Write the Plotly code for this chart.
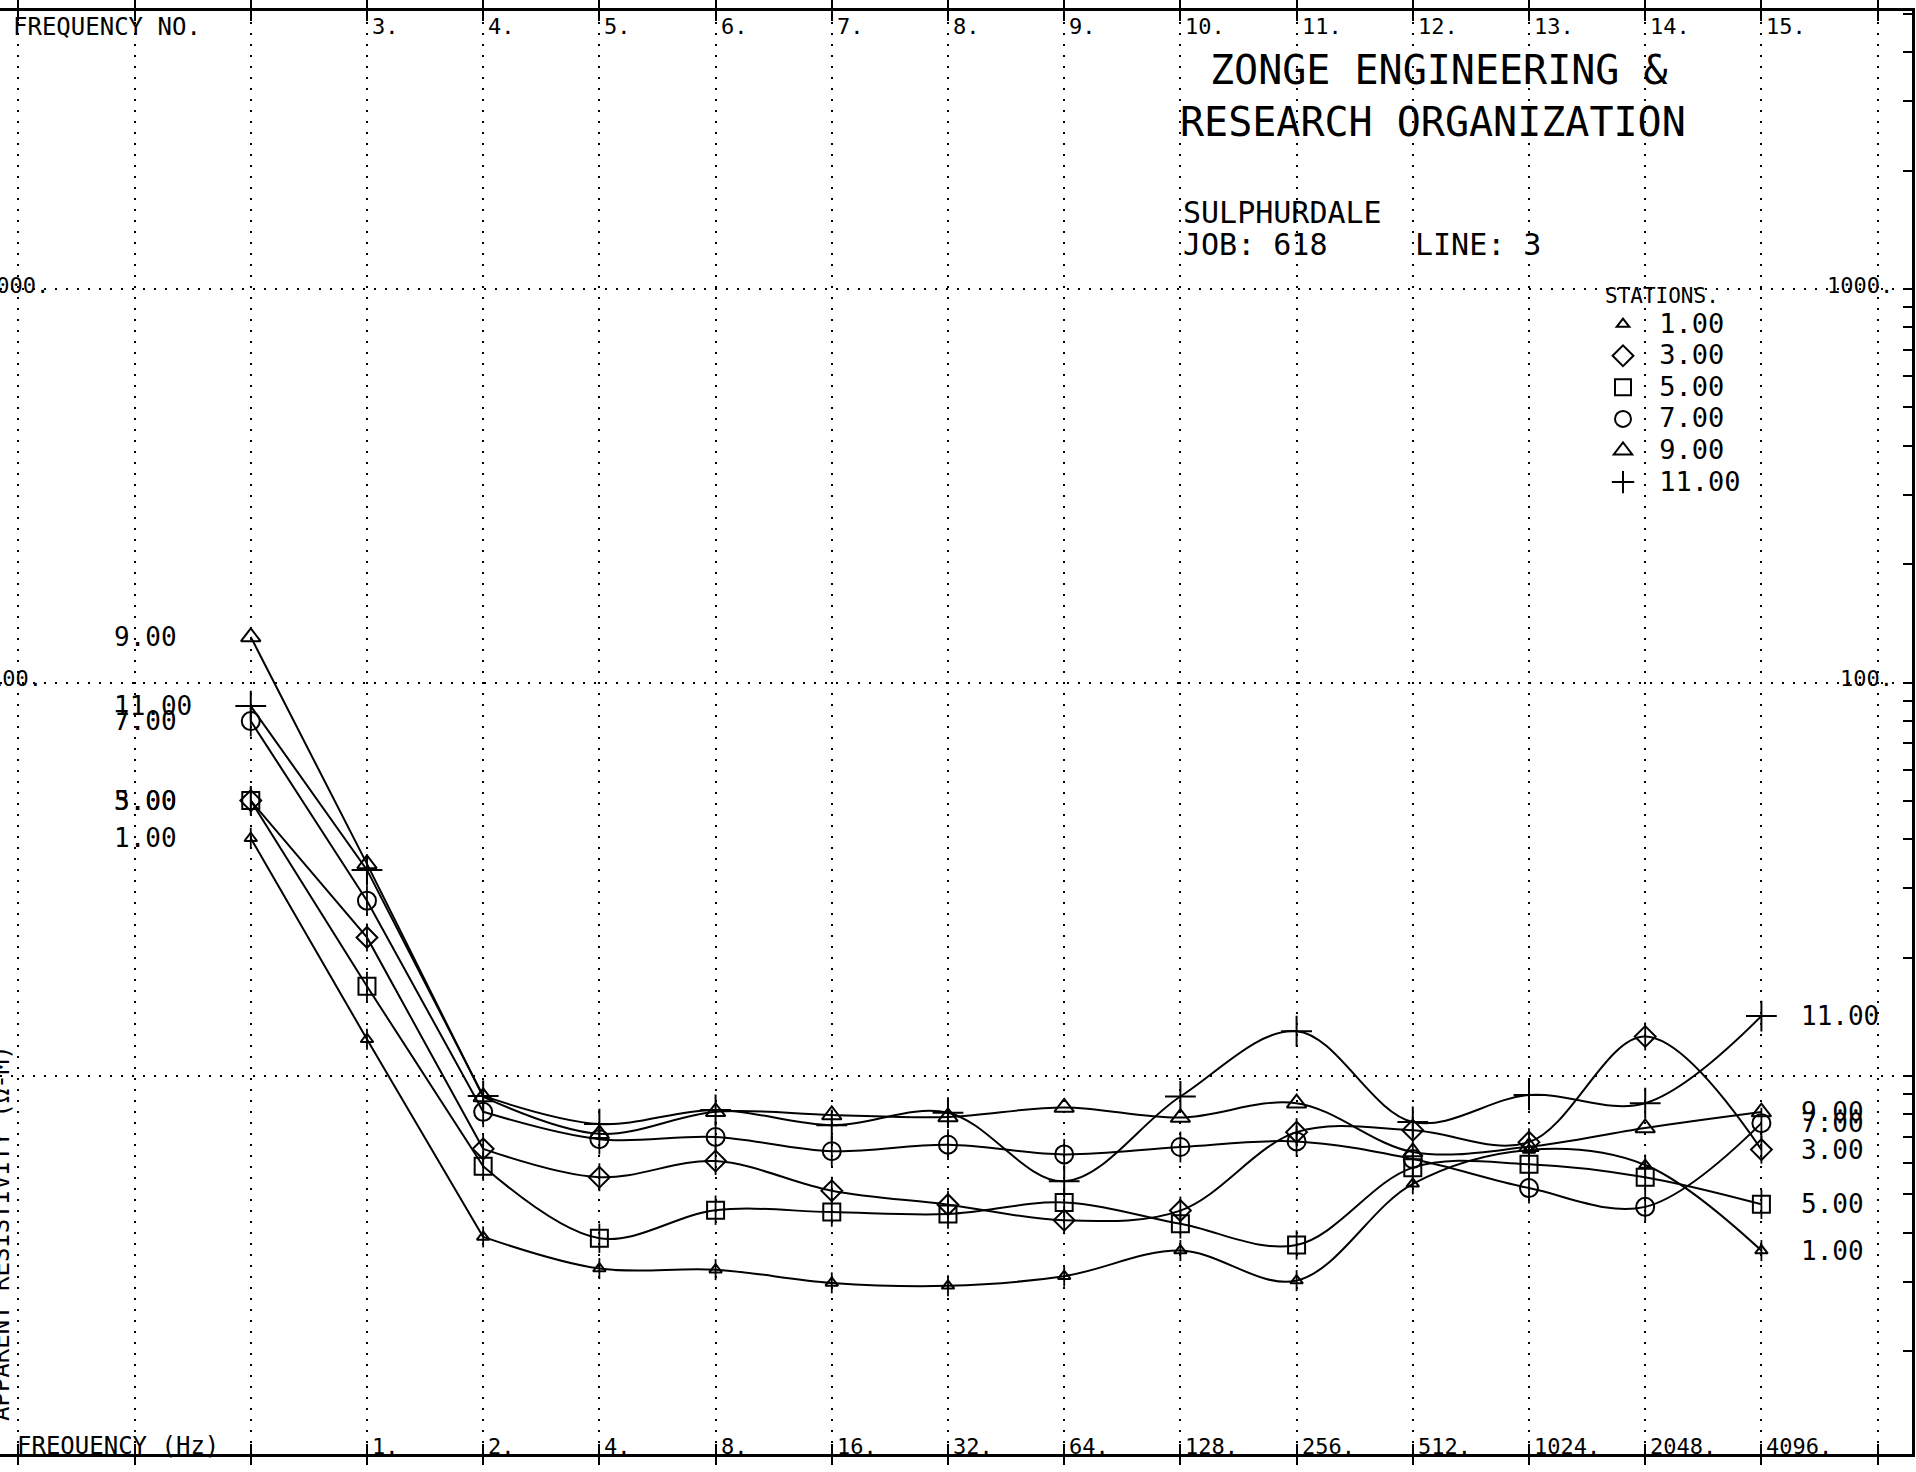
import numpy as np
import plotly.graph_objects as go

# ---------------- data ----------------
freqs = [0.5, 1, 2, 4, 8, 16, 32, 64, 128, 256, 512, 1024, 2048, 4096]
grid_freqs = [0.125, 0.25, 0.5, 1, 2, 4, 8, 16, 32, 64, 128, 256, 512, 1024, 2048, 4096, 8192]
top_freqs = [1, 2, 4, 8, 16, 32, 64, 128, 256, 512, 1024, 2048, 4096]
top_labels = ["3.", "4.", "5.", "6.", "7.", "8.", "9.", "10.", "11.", "12.", "13.", "14.", "15."]
bottom_labels = ["1.", "2.", "4.", "8.", "16.", "32.", "64.", "128.", "256.", "512.", "1024.", "2048.", "4096."]
station_names = ["1.00", "3.00", "5.00", "7.00", "9.00", "11.00"]

st1 = [40.2, 12.4, 3.90, 3.24, 3.22, 2.98, 2.93, 3.10, 3.60, 3.02, 5.32, 6.49, 5.94, 3.60]
st3 = [50.1, 22.5, 6.53, 5.53, 6.08, 5.11, 4.71, 4.30, 4.55, 7.20, 7.28, 6.79, 12.6, 6.50]
st5 = [50.1, 16.9, 5.90, 3.87, 4.56, 4.51, 4.46, 4.77, 4.21, 3.72, 5.85, 5.97, 5.53, 4.72]
st7 = [79.8, 27.9, 8.11, 6.91, 7.00, 6.44, 6.69, 6.32, 6.60, 6.82, 6.15, 5.19, 4.65, 7.59]
st9 = [130.6, 34.6, 8.85, 7.13, 8.11, 7.96, 7.87, 8.32, 7.84, 8.53, 6.41, 6.61, 7.38, 8.10]
st11 = [87.1, 33.4, 8.90, 7.55, 8.20, 7.50, 8.07, 5.40, 8.87, 13.0, 7.64, 8.95, 8.53, 14.2]
series = [st1, st3, st5, st7, st9, st11]

y_decades = [10, 100, 1000]

# ---------------- styling ----------------
FONT = "DejaVu Sans Mono"
W, H = 1916, 1472
ML, MR, MT, MB = 0, 4, 11, 18
PW, PH = W - ML - MR, H - MT - MB

symbols = [
    dict(symbol="triangle-up-open", size=11, stem=True),
    dict(symbol="diamond-open", size=16, stem=True),
    dict(symbol="square-open", size=17, stem=True),
    dict(symbol="circle-open", size=18, stem=True),
    dict(symbol="triangle-up-open", size=17, stem=False),
    dict(symbol="cross-thin-open", size=22, stem=False),
]

# axis ranges (log10 units)
xr = [-3.158 * np.log10(2), 13.296 * np.log10(2)]
yr = [0.0394, 3.7065]


def px(X):
    return (X - ML) / PW


def py(Y):
    return 1 - (Y - MT) / PH


fig = go.Figure()
LW = 2.0
for name, vals, sym in zip(station_names, series, symbols):
    # straight segments for the first three frequencies
    fig.add_trace(go.Scatter(x=freqs[:3], y=vals[:3], mode="lines",
                             line=dict(color="black", width=LW), showlegend=False, hoverinfo="skip"))
    # smooth curve afterwards
    fig.add_trace(go.Scatter(x=freqs[2:], y=vals[2:], mode="lines",
                             line=dict(color="black", width=LW, shape="spline", smoothing=1.0),
                             showlegend=False, hoverinfo="skip"))
    fig.add_trace(go.Scatter(x=freqs, y=vals, mode="markers",
                             name='<span style="font-size:27px">\u00a0' + name + "</span>",
                             marker=dict(symbol=sym["symbol"], size=sym["size"], color="black",
                                         line=dict(color="black", width=2)),
                             showlegend=True))
    if sym["stem"]:
        fig.add_trace(go.Scatter(x=freqs, y=vals, mode="markers", showlegend=False, hoverinfo="skip",
                                 marker=dict(symbol="line-ns-open", size=sym["size"] + 4, color="black",
                                             line=dict(color="black", width=1.8))))

# overlay axes carrying the crossing tick marks
minor_vals = [m * d for d in [1, 10, 100, 1000] for m in range(1, 10)]
fig.add_trace(go.Scatter(x=grid_freqs[:2], y=minor_vals[:2], xaxis="x2", yaxis="y2", mode="markers",
                         marker=dict(opacity=0), showlegend=False, hoverinfo="skip"))

annotations = []

# station labels at first and last point
for name, vals in zip(station_names, series):
    annotations.append(dict(x=np.log10(freqs[0]), y=np.log10(vals[0]), xref="x", yref="y",
                            text=name, showarrow=False, xanchor="left", yanchor="middle",
                            xshift=-139, font=dict(family=FONT, size=26, color="black")))
    annotations.append(dict(x=np.log10(freqs[-1]), y=np.log10(vals[-1]), xref="x", yref="y",
                            text=name, showarrow=False, xanchor="left", yanchor="middle",
                            xshift=38, font=dict(family=FONT, size=26, color="black")))

tick_font = dict(family=FONT, size=22, color="black")
word_font = dict(family=FONT, size=24, color="black")
# top frequency numbers
annotations.append(dict(x=px(11), y=py(27), xref="paper", yref="paper", text="FREQUENCY NO.",
                        showarrow=False, xanchor="left", yanchor="middle", font=word_font))
for f, lab in zip(top_freqs, top_labels):
    annotations.append(dict(x=np.log10(f), y=py(27), xref="x", yref="paper", text=lab,
                            showarrow=False, xanchor="left", yanchor="middle", xshift=3, font=tick_font))
# bottom frequency labels
annotations.append(dict(x=px(15), y=py(1446), xref="paper", yref="paper", text="FREQUENCY (Hz)",
                        showarrow=False, xanchor="left", yanchor="middle", font=word_font))
for f, lab in zip(top_freqs, bottom_labels):
    annotations.append(dict(x=np.log10(f), y=py(1446), xref="x", yref="paper", text=lab,
                            showarrow=False, xanchor="left", yanchor="middle", xshift=3, font=tick_font))
# y decade labels (right side full, left side cut by the page edge)
left_label_edge = {100: 44, 1000: 51}
for v in y_decades[1:]:
    annotations.append(dict(x=px(1895), y=np.log10(v), xref="paper", yref="y", text=f"{v}.",
                            showarrow=False, xanchor="right", yanchor="middle", yshift=4, font=tick_font))
    annotations.append(dict(x=px(left_label_edge[v]), y=np.log10(v), xref="paper", yref="y", text=f"{v}.",
                            showarrow=False, xanchor="right", yanchor="middle", yshift=4, font=tick_font))
# y axis title (cut at the left edge)
annotations.append(dict(x=px(1), y=py(1233), xref="paper", yref="paper",
                        text="APPARENT RESISTIVITY (\u03a9-M)", textangle=-90, showarrow=False,
                        xanchor="center", yanchor="middle", font=dict(family=FONT, size=24, color="black")))
# title block
big = dict(family=FONT, size=40, color="black")
mid = dict(family=FONT, size=30, color="black")
annotations += [
    dict(x=px(1208), y=py(70), text="ZONGE ENGINEERING &", font=big),
    dict(x=px(1178), y=py(122), text="RESEARCH ORGANIZATION", font=big),
    dict(x=px(1181), y=py(213), text="SULPHURDALE", font=mid),
    dict(x=px(1181), y=py(244), text="JOB: 618", font=mid),
    dict(x=px(1413), y=py(244), text="LINE: 3", font=mid),
]
for a in annotations[-5:]:
    a.update(xref="paper", yref="paper", showarrow=False, xanchor="left", yanchor="middle")

fig.update_layout(
    width=W, height=H,
    margin=dict(l=ML, r=MR, t=MT, b=MB, autoexpand=False),
    paper_bgcolor="white", plot_bgcolor="white",
    annotations=annotations,
    showlegend=True,
    legend=dict(x=px(1603), y=py(276), xanchor="left", yanchor="top",
                bgcolor="rgba(0,0,0,0)", borderwidth=0, itemsizing="trace",
                tracegroupgap=0, itemwidth=30,
                title=dict(text="STATIONS.", font=dict(family=FONT, size=21, color="black")),
                font=dict(family=FONT, size=22, color="black")),
    xaxis=dict(type="log", range=xr, tickmode="array", tickvals=grid_freqs, showticklabels=False,
               showgrid=True, gridcolor="black", griddash="2px,9px", gridwidth=2,
               showline=True, linecolor="black", linewidth=3, mirror="allticks",
               ticks="outside", ticklen=8, tickwidth=2, tickcolor="black", zeroline=False),
    xaxis2=dict(type="log", range=xr, overlaying="x", anchor="y2", tickmode="array", tickvals=grid_freqs,
                showticklabels=False, showgrid=False, showline=False, mirror="allticks",
                ticks="inside", ticklen=10, tickwidth=2, tickcolor="black", zeroline=False),
    yaxis=dict(type="log", range=yr, tickmode="array", tickvals=y_decades, showticklabels=False,
               showgrid=True, gridcolor="black", griddash="2px,9px", gridwidth=2, side="right",
               showline=True, linecolor="black", linewidth=3, mirror=False, ticks="", zeroline=False),
    yaxis2=dict(type="log", range=yr, overlaying="y", anchor="x2", side="right", tickmode="array",
                tickvals=minor_vals, showticklabels=False, showgrid=False, showline=False,
                ticks="inside", ticklen=9, tickwidth=2, tickcolor="black", zeroline=False),
)

fig.write_html("out.html")
